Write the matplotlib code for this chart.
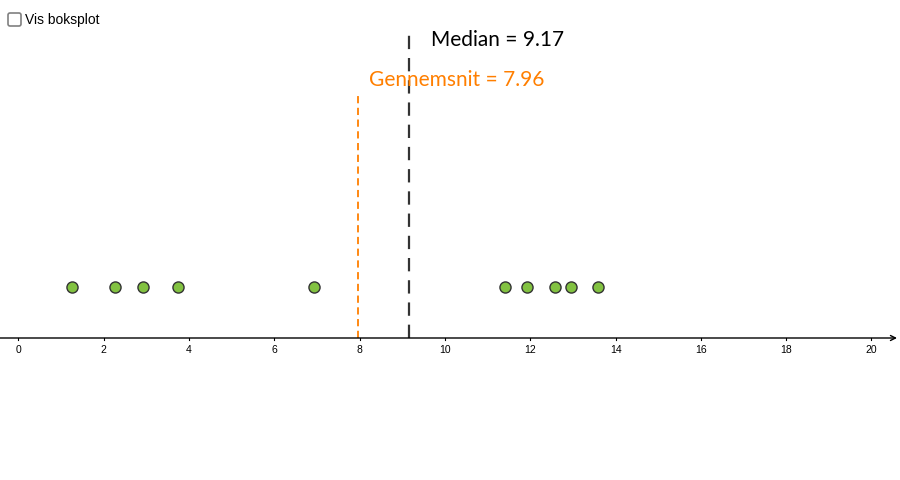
import numpy as np
import matplotlib
matplotlib.use('Agg')
import matplotlib.pyplot as plt
from matplotlib.patches import FancyBboxPatch

# data values
values = [1.26, 2.27, 2.93, 3.75, 6.94, 11.40, 11.93, 12.57, 12.95, 13.60]
x_ticks = [0, 2, 4, 6, 8, 10, 12, 14, 16, 18, 20]

mean_val = np.mean(values)
median_val = np.median(values)

fig = plt.figure(figsize=(9, 4.8), dpi=100)
ax = fig.add_axes([0, 0, 1, 1])

# pixel-like y range (0 at bottom, 480 at top)
px = 42.66
ax.set_xlim(-18.3 / px, (900 - 18.3) / px)
ax.set_ylim(0, 480)
ax.axis('off')

axis_y = 480 - 338
dot_y = 480 - 287

# x axis with arrow
ax.annotate('', xy=((897 - 18.3) / px, axis_y), xytext=(-18.3 / px, axis_y),
            arrowprops=dict(arrowstyle='->', color='black', lw=1, mutation_scale=9,
                            shrinkA=0, shrinkB=0))
for t in x_ticks:
    ax.plot([t, t], [axis_y, axis_y - 2], color='black', lw=0.8)
    ax.text(t, axis_y - 12, str(t), ha='center', va='center', fontsize=7.5,
            family='Liberation Sans')

# mean and median lines
ax.plot([mean_val, mean_val], [axis_y, 480 - 95], color='#ff7f00', lw=1.3,
        linestyle=(0, (4, 2.5)))
ax.plot([median_val, median_val], [axis_y, 480 - 30], color='#333333', lw=1.6,
        linestyle=(0, (6, 4)))

ax.text(median_val + 0.5, 480 - 40, 'Median = %.2f' % median_val, fontsize=15,
        color='black', ha='left', va='center', family='Lato')
ax.text(mean_val + 0.25, 480 - 80, 'Gennemsnit = %.2f' % mean_val, fontsize=15,
        color='#ff7f00', ha='left', va='center', family='Lato')

# the dots
ax.plot(values, [dot_y] * len(values), 'o', markersize=8, markerfacecolor='#82c241',
        markeredgecolor='#333333', markeredgewidth=1, linestyle='none')

# checkbox "Vis boksplot"
box = FancyBboxPatch((8, 13), 13, 13, boxstyle='round,pad=0,rounding_size=2',
                     transform=None, facecolor='white', edgecolor='#808080', lw=1.2)
box.set_transform(matplotlib.transforms.Affine2D().scale(1, -1).translate(0, 480))
fig.patches.append(box)
fig.text(25 / 900, 1 - 20 / 480, 'Vis boksplot', fontsize=10, va='center', ha='left',
         family='Liberation Sans')

fig.savefig('out.png', dpi=100)
